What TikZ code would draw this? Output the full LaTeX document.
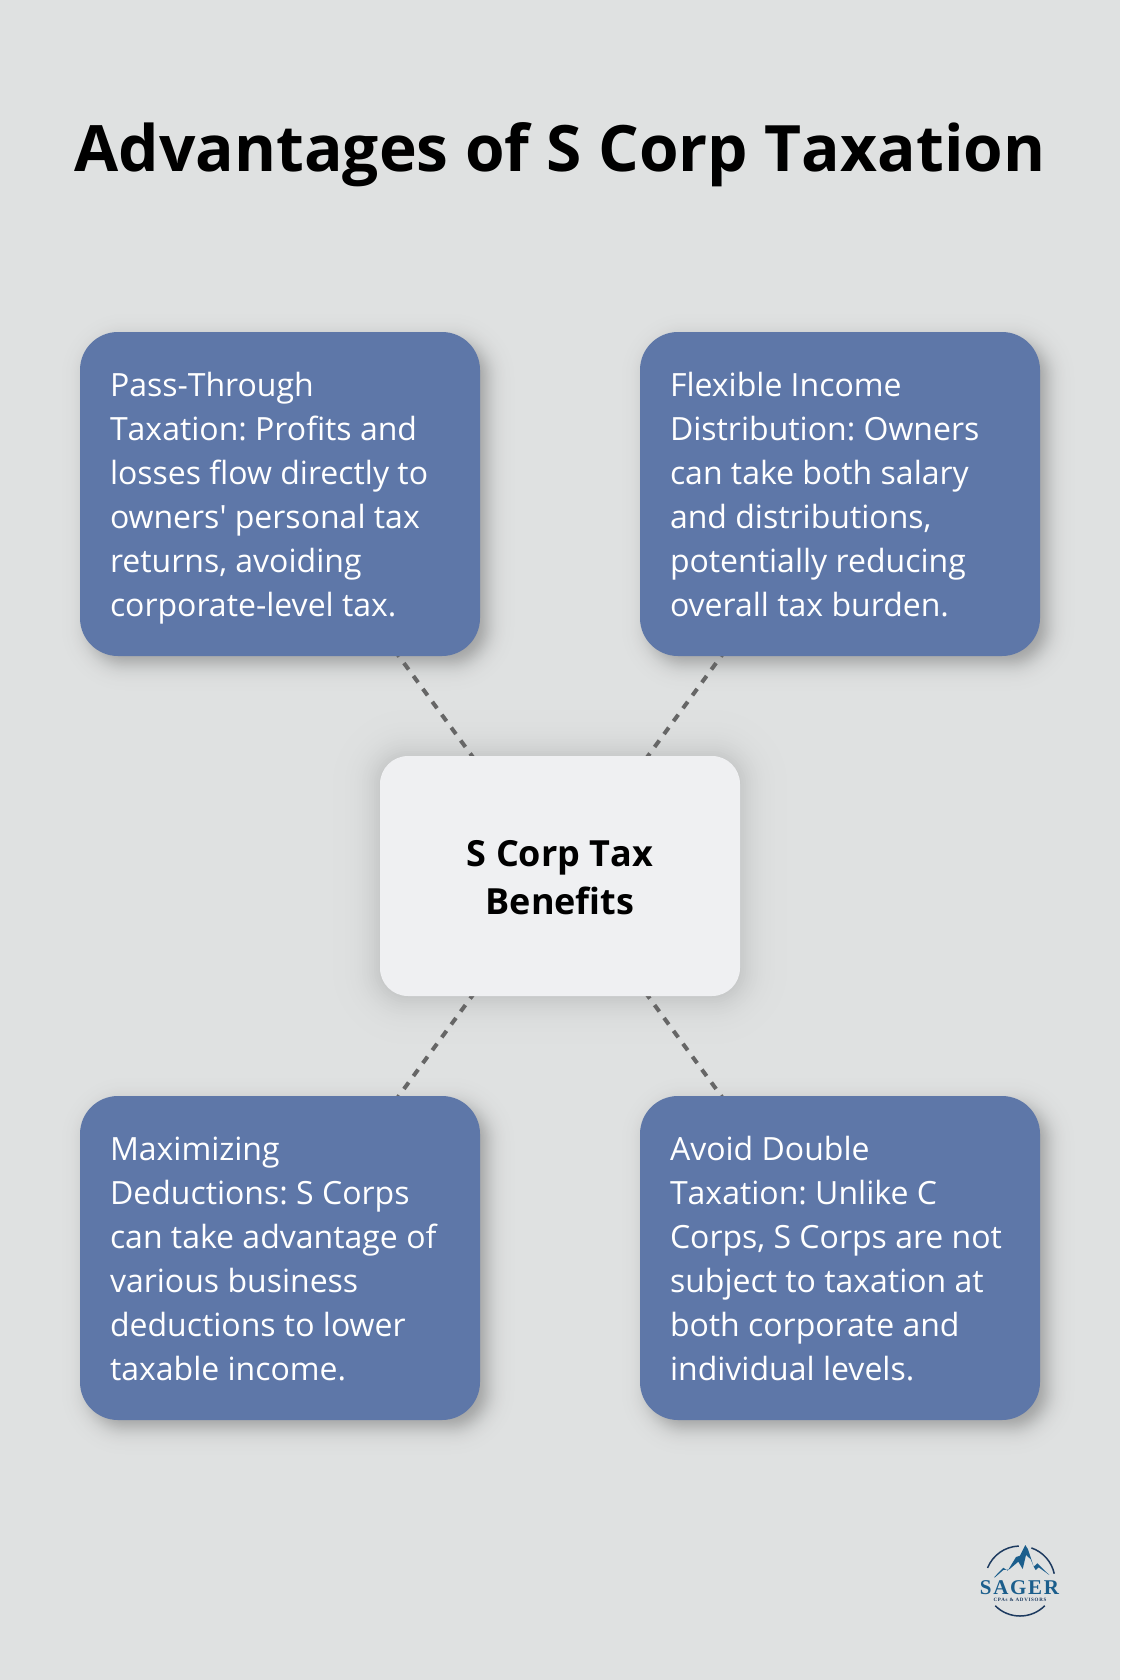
\documentclass[tikz,border=0pt]{standalone}
\usepackage{fontspec}
\setmainfont{Open Sans}[Ligatures=TeXOff]
\newfontfamily\logofont{Liberation Serif}
\usetikzlibrary{calc}
\definecolor{pagebg}{HTML}{DFE1E1}
\definecolor{bluebox}{HTML}{5E77A8}
\definecolor{hubbox}{HTML}{EFF0F2}
\definecolor{linkgrey}{HTML}{666666}
\definecolor{logoblue}{HTML}{1B5E8C}
\definecolor{logonavy}{HTML}{1D3A5F}
\pgfdeclarelayer{pagelayer}
\pgfdeclarelayer{shadowlayer}
\pgfdeclarelayer{linklayer}
\pgfsetlayers{pagelayer,shadowlayer,linklayer,main}
\frenchspacing
% \softshadow{x0}{y0}{x1}{y1}{radius}{sigma}{alpha}: opaque stack, outer to inner, gaussian edge
\newcommand{\softshadow}[7]{%
  \foreach \k in {0,...,39}{%
    \pgfmathsetmacro{\zz}{2.6-5.2*\k/39}%
    \pgfmathsetmacro{\ee}{(#6)*\zz}%
    \pgfmathsetmacro{\rr}{max(1,(#5)+\ee)}%
    \pgfmathsetmacro{\pp}{100*(#7)/(1+exp(1.702*\zz))}%
    \fill[black!\pp!pagebg,rounded corners=\rr pt]
      (#1-\ee,#2-\ee) rectangle (#3+\ee,#4+\ee);
  }}
\newcommand{\cardtext}[1]{\parbox[c][257.6pt][t]{340pt}{\raggedright\strut #1}}
\newcommand{\nk}{\kern0pt }
\tikzset{
  x=1pt,y=-1pt,
  card/.style={draw=none,fill=bluebox,rounded corners=38pt,minimum width=400pt,
    minimum height=324pt,inner sep=0pt,text=white,align=left,
    font=\fontsize{32}{44}\selectfont},
  hub/.style={draw=none,fill=hubbox,rounded corners=28pt,minimum width=360pt,
    minimum height=240pt,inner sep=0pt,text=black,align=center,
    font=\fontsize{36}{48}\selectfont\bfseries},
  heading/.style={text=black,inner sep=0pt,font=\fontsize{64}{70}\selectfont\bfseries},
  link/.style={draw=linkgrey,line width=4pt,dash pattern=on 8pt off 8pt},
}
\begin{document}
\begin{tikzpicture}
\useasboundingbox (0,0) rectangle (1120,1680);
\begin{pgfonlayer}{pagelayer}
\fill[pagebg] (0,0) rectangle (1120,1680);
\end{pgfonlayer}
\node[heading] (title) at (560,154.5) {Advantages of S Corp T\nk axation};
\node[hub] (hub) at (560,876) {\parbox[c][87.2pt][t]{360pt}{\centering\strut S Corp T\nk ax\\Benefits}};
\node[card] (tl) at (280,494) {\cardtext{Pass-\nk T\nk hrough\\T\nk axation: Profits and\\losses flow directly to\\owners' personal tax\\returns, avoiding\\corporate-level tax.}};
\node[card] (tr) at (840,494) {\cardtext{Flexible Income\\Distribution: Owners\\can take both salary\\and distributions,\\potentially reducing\\overall tax burden.}};
\node[card] (bl) at (280,1258) {\cardtext{Maximizing\\Deductions: S Corps\\can take advantage of\\various business\\deductions to lower\\taxable income.}};
\node[card] (br) at (840,1258) {\cardtext{Avoid Double\\T\nk axation: Unlike C\\Corps, S Corps are not\\subject to taxation at\\both corporate and\\individual levels.}};
\begin{pgfonlayer}{linklayer}
  \draw[link] (hub.center) -- (tl.center);
  \draw[link] (hub.center) -- (tr.center);
  \draw[link] (hub.center) -- (bl.center);
  \draw[link] (hub.center) -- (br.center);
\end{pgfonlayer}
\begin{pgfonlayer}{shadowlayer}
  \softshadow{88}{340}{488}{664}{38}{10}{0.3}
  \softshadow{648}{340}{1048}{664}{38}{10}{0.3}
  \softshadow{88}{1104}{488}{1428}{38}{10}{0.3}
  \softshadow{648}{1104}{1048}{1428}{38}{10}{0.3}
  \softshadow{380}{757}{740}{997}{28}{18}{0.22}
\end{pgfonlayer}
% logo
\begin{scope}[shift={(1020,1581)},x=1pt,y=1pt]
  \draw[logonavy,line width=1.5pt] (158:35) arc[start angle=158,end angle=92,radius=35];
  \draw[logonavy,line width=1.5pt] (71:35) arc[start angle=71,end angle=12,radius=35];
  \draw[logonavy,line width=1.5pt] (225:35) arc[start angle=225,end angle=315,radius=35];
  \fill[logoblue] (-26,3.7) -- (-16.7,13.3) -- (-12.3,10.3) -- (-4,24) -- (0,25.3) -- (5.3,36) -- (8,31.7) -- (13.7,14.3) -- (10.7,21.7) -- (6,26) -- (2.7,12) -- (-1.7,19.3) -- (-10.7,11.7) -- (-16.7,11) -- (-25,3.7) -- cycle;
  \fill[logoblue] (13.7,14.3) -- (17.3,17.7) -- (29.3,6) -- (18.7,13.7) -- (15.7,11) -- cycle;
  \node[text=logoblue,inner sep=0pt,anchor=base] (logoname) at (-0.5,-13) {\logofont\bfseries\addfontfeature{LetterSpace=8}\fontsize{21}{22}\selectfont SAGER};
  \node[text=logonavy,inner sep=0pt,anchor=base] (logosub) at (0,-20.5) {\logofont\bfseries\addfontfeature{LetterSpace=14}\fontsize{5}{5}\selectfont CPAs \& ADVISORS};
\end{scope}
\end{tikzpicture}
\end{document}
